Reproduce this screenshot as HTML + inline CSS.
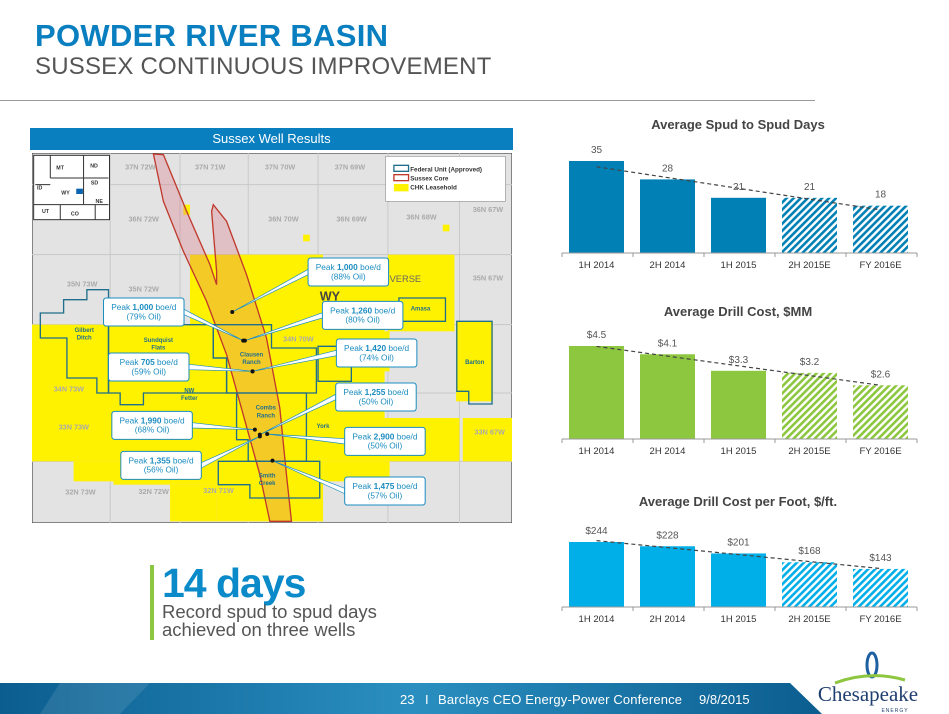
<!DOCTYPE html>
<html><head><meta charset="utf-8"><style>
body{margin:0;width:949px;height:714px;overflow:hidden;background:#fff;font-family:"Liberation Sans",sans-serif;position:relative}
.abs{position:absolute}
</style></head><body>
<div class="abs" style="left:35px;top:18px;font-size:31px;font-weight:bold;color:#0a7fc0;letter-spacing:0.3px">POWDER RIVER BASIN</div>
<div class="abs" style="left:35px;top:53px;font-size:24px;color:#555;letter-spacing:0.2px">SUSSEX CONTINUOUS IMPROVEMENT</div>
<div class="abs" style="left:0;top:100px;width:815px;height:1px;background:#999"></div>

<div class="abs" style="left:30px;top:128px;width:483px;height:22px;background:#0a7fc0;color:#fff;font-size:13px;text-align:center;line-height:22px">Sussex Well Results</div>

<svg class="abs" style="left:32px;top:153px" width="480" height="370" viewBox="5 85 1443 1110" preserveAspectRatio="none">
<rect x="5" y="85" width="1443" height="1110" fill="#e3e3e3" stroke="#555" stroke-width="4"/>
<g stroke="#c8c8c8" stroke-width="3" fill="none">
<path d="M5 180H1448M5 390H1448M5 600H1448M5 805H1448M5 1010H1448M240 85V1195M450 85V1195M655 85V1195M865 85V1195M1075 85V1195M1290 85V1195"/>
</g>
<g fill="#fff200">
<rect x="5" y="600" width="1060" height="410"/>
<rect x="480" y="390" width="400" height="215"/>
<rect x="1075" y="390" width="200" height="230"/>
<rect x="880" y="480" width="200" height="130"/>
<rect x="560" y="1010" width="320" height="180"/>
<rect x="880" y="1010" width="200" height="60"/>
<rect x="1280" y="590" width="110" height="240"/>
<rect x="1060" y="880" width="230" height="130"/>
<rect x="1300" y="880" width="148" height="130"/>
<rect x="130" y="1010" width="120" height="60"/>
<rect x="250" y="1010" width="310" height="70"/>
<rect x="420" y="1080" width="140" height="110"/>
<rect x="980" y="620" width="100" height="120"/>
<rect x="460" y="240" width="20" height="30"/><rect x="820" y="330" width="20" height="20"/><rect x="1240" y="300" width="20" height="20"/>
</g>
<path d="M370 88L400 90L470 260L540 420L560 480L560 440L545 260L550 240L590 290L650 450L710 640L750 850L770 1050L785 1190L720 1190L690 1050L640 870L590 690L530 530L460 380L400 230Z" fill="rgba(220,110,130,0.3)" stroke="#c0392b" stroke-width="4"/>
<g fill="none" stroke="#1f6e8c" stroke-width="4">
<path d="M30 565H100V525H170V495H235V805H200V760H110V640H30Z"/>
<path d="M235 600H550V700H590V805H340V840H270V805H235Z"/>
<path d="M550 600H725V670H860V805H590V700H550Z"/>
<path d="M590 805H830V1010H655V945H620V805Z"/>
<path d="M565 1010H870V1120H660V1080H565Z"/>
<path d="M1108 520H1248V590H1108Z"/>
<path d="M1282 590H1388V838H1318V800H1282Z"/>
<path d="M865 665H965V770H865Z"/>
</g>
<g font-family="Liberation Sans" font-size="22" fill="#aaa" font-weight="bold">
<text x="285" y="135">37N 72W</text><text x="495" y="135">37N 71W</text><text x="705" y="135">37N 70W</text><text x="915" y="135">37N 69W</text>
<text x="295" y="290">36N 72W</text><text x="715" y="290">36N 70W</text><text x="920" y="290">36N 69W</text><text x="1130" y="285">36N 68W</text><text x="1330" y="262">36N 67W</text>
<text x="110" y="485">35N 73W</text><text x="295" y="500">35N 72W</text><text x="1330" y="468">35N 67W</text>
<text x="70" y="800">34N 73W</text><text x="760" y="650">34N 70W</text>
<text x="85" y="915">33N 73W</text><text x="1335" y="930">33N 67W</text>
<text x="105" y="1110">32N 73W</text><text x="325" y="1108">32N 72W</text><text x="520" y="1105">32N 71W</text>
</g>
<g font-family="Liberation Sans" font-size="18" fill="#1f6e8c" font-weight="bold" text-anchor="middle">
<text x="162" y="622">Gilbert</text><text x="162" y="645">Ditch</text>
<text x="385" y="652">Sundquist</text><text x="385" y="675">Flats</text>
<text x="665" y="695">Clausen</text><text x="665" y="718">Ranch</text>
<text x="478" y="803">NW</text><text x="478" y="826">Fetter</text>
<text x="708" y="855">Combs</text><text x="708" y="878">Ranch</text>
<text x="880" y="910">York</text><text x="712" y="1058">Smith</text><text x="712" y="1081">Creek</text>
<text x="1173" y="558">Amasa</text><text x="1336" y="718">Barton</text>
</g>
<text x="870" y="528" font-family="Liberation Sans" font-size="38" font-weight="bold" fill="#444">WY</text>
<text x="1080" y="472" font-family="Liberation Sans" font-size="28" fill="#666">VERSE</text>
<g>
<rect x="10" y="92" width="228" height="193" fill="#fff" stroke="#333" stroke-width="3"/>
<path d="M60 92V160M160 92V240M60 160H235M10 240H235M90 240V285M195 240V285M15 180H60" stroke="#333" stroke-width="3" fill="none"/>
<g font-family="Liberation Sans" font-size="16" fill="#333" font-weight="bold"><text x="78" y="135">MT</text><text x="180" y="128">ND</text><text x="182" y="180">SD</text><text x="20" y="195">ID</text><text x="93" y="210">WY</text><text x="196" y="235">NE</text><text x="35" y="265">UT</text><text x="122" y="272">CO</text></g>
<rect x="138" y="192" width="20" height="16" fill="#0a64b0"/>
</g>
<g>
<rect x="1068" y="95" width="360" height="135" fill="#fff" stroke="#999" stroke-width="2"/>
<rect x="1093" y="122" width="44" height="18" fill="none" stroke="#1f6e8c" stroke-width="4"/>
<rect x="1093" y="150" width="44" height="18" fill="none" stroke="#c0392b" stroke-width="4"/>
<rect x="1093" y="178" width="44" height="22" fill="#fff200"/>
<g font-family="Liberation Sans" font-size="19" fill="#333" font-weight="bold"><text x="1142" y="140">Federal Unit (Approved)</text><text x="1142" y="167">Sussex Core</text><text x="1142" y="194">CHK Leasehold</text></g>
</g>
<g id="callouts"></g>
</svg>

<div class="abs" style="left:150px;top:565px;width:4px;height:75px;background:#8dc63f"></div>
<div class="abs" style="left:162px;top:560px;font-size:41px;font-weight:bold;color:#0a8ac8;letter-spacing:-1px">14 days</div>
<div class="abs" style="left:162px;top:603px;font-size:18.5px;color:#555;line-height:18px">Record spud to spud days<br>achieved on three wells</div>

<svg class="abs" id="charts" style="left:0;top:0" width="949" height="714">
<defs>
<pattern id="h0" patternUnits="userSpaceOnUse" width="5" height="5" patternTransform="rotate(45)"><rect width="5" height="5" fill="#fff"/><rect width="2.6" height="5" fill="#0080b4"/></pattern>
<pattern id="h1" patternUnits="userSpaceOnUse" width="5" height="5" patternTransform="rotate(45)"><rect width="5" height="5" fill="#fff"/><rect width="2.6" height="5" fill="#8dc63f"/></pattern>
<pattern id="h2" patternUnits="userSpaceOnUse" width="5" height="5" patternTransform="rotate(45)"><rect width="5" height="5" fill="#fff"/><rect width="2.6" height="5" fill="#00aee8"/></pattern>
<linearGradient id="fg" x1="0" x2="1"><stop offset="0" stop-color="#0b5d8f"/><stop offset="0.5" stop-color="#2a8fc0"/><stop offset="1" stop-color="#0b5d8f"/></linearGradient>
</defs>
<polygon points="0,683 790,683 822,714 0,714" fill="url(#fg)"/>
<polygon points="60,683 150,683 120,714 40,714" fill="rgba(255,255,255,0.1)"/>
<g font-size="13" fill="#fff" font-family="Liberation Sans">
<text x="400" y="704">23</text><text x="425" y="704">I</text><text x="438" y="704" textLength="244">Barclays CEO Energy-Power Conference</text><text x="699" y="704">9/8/2015</text>
</g>
<g>
<ellipse cx="872" cy="665" rx="5" ry="12" fill="none" stroke="#1d5fa0" stroke-width="3"/>
<path d="M835 683Q870 670 905 680" stroke="#8dc63f" stroke-width="3" fill="none"/>
<text x="868" y="701" text-anchor="middle" font-family="Liberation Serif" font-size="21" fill="#1f3f70">Chesapeake</text>
<text x="895" y="712" text-anchor="middle" font-family="Liberation Sans" font-size="5" fill="#1f3f70" letter-spacing="1">ENERGY</text>
</g>
</svg>

<script>
const categories = ["1H 2014","2H 2014","1H 2015","2H 2015E","FY 2016E"];
const spudDays = [35,28,21,21,18];
const spudLabels = ["35","28","21","21","18"];
const drillCost = [4.5,4.1,3.3,3.2,2.6];
const drillCostLabels = ["$4.5","$4.1","$3.3","$3.2","$2.6"];
const costPerFoot = [244,228,201,168,143];
const costPerFootLabels = ["$244","$228","$201","$168","$143"];
const estimated = [false,false,false,true,true];

const NS="http://www.w3.org/2000/svg";
const svg=document.getElementById('charts');
function mk(tag,attrs,parent){const e=document.createElementNS(NS,tag);for(const k in attrs)e.setAttribute(k,attrs[k]);(parent||svg).appendChild(e);return e;}
const charts=[
 {title:"Average Spud to Spud Days",vals:spudDays,labels:spudLabels,titleY:129,base:253,max:35,h:92,color:"#0080b4",pat:"url(#h0)",name:"spud-days-chart"},
 {title:"Average Drill Cost, $MM",vals:drillCost,labels:drillCostLabels,titleY:316,base:439,max:4.5,h:93,color:"#8dc63f",pat:"url(#h1)",name:"drill-cost-chart"},
 {title:"Average Drill Cost per Foot, $/ft.",vals:costPerFoot,labels:costPerFootLabels,titleY:506,base:607,max:244,h:65,color:"#00aee8",pat:"url(#h2)",name:"cost-per-foot-chart"}
];
const x0=569,step=71,bw=55;
function xScale(i){return x0+i*step;}
charts.forEach(c=>{
 const g=mk('g',{});
 
 
 const yS=v=>c.base-v/c.max*c.h;
 const t=mk('text',{x:738,y:c.titleY,'text-anchor':'middle','font-size':13,'font-weight':'bold',fill:'#444','font-family':'Liberation Sans'},g);
 t.textContent=c.title;
 
 
 c.vals.forEach((v,i)=>{
  const r=mk('rect',{x:xScale(i),y:yS(v),width:bw,height:c.base-yS(v),fill:estimated[i]?c.pat:c.color},g);
  
  
  const l=mk('text',{x:xScale(i)+bw/2,y:yS(v)-8,'text-anchor':'middle','font-size':10,fill:'#555','font-family':'Liberation Sans'},g);
  l.textContent=c.labels[i];
  
  
  const cl=mk('text',{x:xScale(i)+bw/2,y:c.base+15,'text-anchor':'middle','font-size':9.5,fill:'#333','font-family':'Liberation Sans'},g);
  cl.textContent=categories[i];
  
  
 });
 const ax=mk('line',{x1:562,x2:917,y1:c.base,y2:c.base,stroke:'#999','stroke-width':1},g);
 
 
 for(let i=0;i<=5;i++){mk('line',{x1:562+i*71,x2:562+i*71,y1:c.base,y2:c.base+4,stroke:'#999'},g);}
 const n=c.vals.length,mx=(n-1)/2,my=c.vals.reduce((a,b)=>a+b,0)/n;
 let num=0,den=0;c.vals.forEach((v,i)=>{num+=(i-mx)*(v-my);den+=(i-mx)*(i-mx);});
 const s=num/den;
 const tr=mk('line',{x1:xScale(0)+bw/2,y1:yS(my-s*mx),x2:xScale(n-1)+bw/2,y2:yS(my+s*mx),stroke:'#444','stroke-width':1.2,'stroke-dasharray':'4,3'},g);
 
 
});

const callPeaks=["1,000","1,000","1,260","1,420","705","1,255","1,990","2,900","1,355","1,475"];
const callOil=["88%","79%","80%","74%","59%","50%","68%","50%","56%","57%"];
const callBox=[[835,400],[220,520],[878,530],[920,643],[235,685],[918,775],[245,860],[945,908],[272,980],[945,1057]];
const callPt=[[607,562],[640,648],[645,648],[668,740],[668,740],[690,930],[675,915],[712,928],[690,935],[728,1008]];
const cg=document.getElementById('callouts');
callBox.forEach((b,i)=>{
 const g=mk('g',{},cg);
 
 
 const bx=b[0],by=b[1],w=242,h=84;
 const ax=callPt[i][0]<bx?bx:bx+w;
 mk('polygon',{points:`${ax},${by+h/2-8} ${callPt[i][0]},${callPt[i][1]} ${ax},${by+h/2+8}`,fill:'#fff',stroke:'#1a8cc0','stroke-width':2},g);
 mk('rect',{x:bx,y:by,width:w,height:h,rx:8,fill:'#fff',stroke:'#1a8cc0','stroke-width':3},g);
 mk('circle',{cx:callPt[i][0],cy:callPt[i][1],r:6,fill:'#111'},g);
 const t1=mk('text',{x:bx+w/2,y:by+36,'text-anchor':'middle','font-size':25,fill:'#1a8cc0','font-family':'Liberation Sans'},g);
 t1.innerHTML='Peak <tspan font-weight="bold">'+callPeaks[i]+'</tspan> boe/d';
 const t2=mk('text',{x:bx+w/2,y:by+64,'text-anchor':'middle','font-size':25,fill:'#1a8cc0','font-family':'Liberation Sans'},g);
 t2.textContent='('+callOil[i]+' Oil)';
});
</script>
</body></html>
